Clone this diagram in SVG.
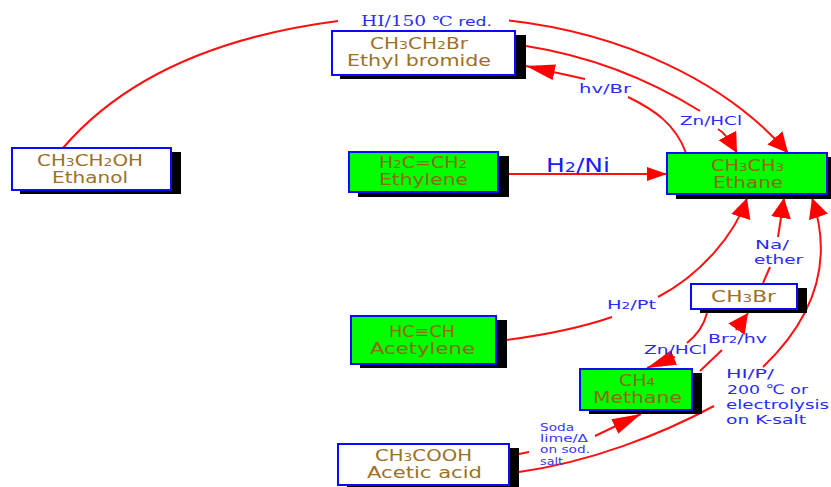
<svg xmlns="http://www.w3.org/2000/svg" width="831" height="487" viewBox="0 0 831 487">
<style>
text{font-family:"DejaVu Sans","Liberation Sans",sans-serif}
.bg{fill:#fff}
.sh{fill:#000}
.w{fill:#fff;stroke:#0a0aff;stroke-width:2}
.g{fill:#00ff00;stroke:#0a0aff;stroke-width:2}
.tw{fill:#9c7126;font-size:15px}
.tg{fill:#8c6a12;font-size:15px}
.l{fill:#2a2aff;font-size:13px}
.m{fill:#1a1aff;font-size:19px}
.x{fill:#3535ff;font-size:10.500px}
.c{fill:none;stroke:#ff1010;stroke-width:2}
.h{fill:#ff0000}
.sr{font-family:"DejaVu Serif","Liberation Serif",serif;font-size:14px}
.s{font-size:70%}
</style>
<defs>
<marker id="ah" markerUnits="userSpaceOnUse" markerWidth="24" markerHeight="24" refX="20" refY="10" orient="auto"><path class="h" d="M0 0L20 10L0 20Z"/></marker>
<marker id="an" markerUnits="userSpaceOnUse" markerWidth="24" markerHeight="16" refX="20" refY="7" orient="auto"><path class="h" d="M0 0L20 7L0 14Z"/></marker>
<marker id="al" markerUnits="userSpaceOnUse" markerWidth="32" markerHeight="18" refX="29" refY="8" orient="auto"><path class="h" d="M0 0L29 8L0 16Z"/></marker>
</defs>
<rect class="bg" width="831" height="487"/>
<g id="connectors">
<path class="c" marker-end="url(#ah)" d="M63 148C130 70 230 35 338 21M509 20.500C620 33 725 80 788 153"/>
<path class="c" marker-end="url(#ah)" d="M526 46C590 56 650 80 700 111M718 129C725 133 731 142 737 153"/>
<path class="c" marker-end="url(#al)" d="M686 153C676 125 655 110 628 97M585 79L526 66"/>
<path class="c" marker-end="url(#an)" d="M509 174H667"/>
<path class="c" marker-end="url(#ah)" d="M506 340C545 335 580 328 612 317M658 297C700 275 735 235 747 198"/>
<path class="c" marker-end="url(#ah)" d="M763 283L770 267M778 237L784 198"/>
<path class="c" marker-end="url(#ah)" d="M519 472C590 462 660 435 714 406M763 367C812 320 835 265 812 198"/>
<path class="c" marker-end="url(#al)" d="M707 313C704 325 697 335 687 343M675 357L647 368"/>
<path class="c" marker-end="url(#ah)" d="M700 371L722 350M736 330L748 313"/>
<path class="c" marker-end="url(#al)" d="M519 454L529 452M595 436L641 414"/>
<g id="labels">
<text x="361" y="26" class="l" textLength="131" lengthAdjust="spacingAndGlyphs"><tspan class="sr">HI/150 ℃</tspan> red.</text>
<text x="579" y="93" class="l" textLength="52" lengthAdjust="spacingAndGlyphs">hv/Br</text>
<text x="680" y="125" class="l" textLength="62" lengthAdjust="spacingAndGlyphs">Zn/HCl</text>
<text x="546" y="172" class="m" textLength="64" lengthAdjust="spacingAndGlyphs">H<tspan class="s">2</tspan>/Ni</text>
<text x="607" y="309" class="l" textLength="49" lengthAdjust="spacingAndGlyphs">H<tspan class="s">2</tspan>/Pt</text>
<text x="755" y="249" class="l" textLength="34" lengthAdjust="spacingAndGlyphs">Na/</text>
<text x="754" y="264" class="l" textLength="49" lengthAdjust="spacingAndGlyphs">ether</text>
<text x="708" y="343" class="l" textLength="59" lengthAdjust="spacingAndGlyphs">Br<tspan class="s">2</tspan>/hv</text>
<text x="644" y="354" class="l" textLength="63" lengthAdjust="spacingAndGlyphs">Zn/HCl</text>
<text x="726" y="378" class="l" textLength="48" lengthAdjust="spacingAndGlyphs">HI/P/</text>
<text x="727" y="394" class="l" textLength="81" lengthAdjust="spacingAndGlyphs">200 ℃ or</text>
<text x="726" y="409" class="l" textLength="103" lengthAdjust="spacingAndGlyphs">electrolysis</text>
<text x="726" y="424" class="l" textLength="80" lengthAdjust="spacingAndGlyphs">on K-salt</text>
<text x="540" y="431" class="x" textLength="34" lengthAdjust="spacingAndGlyphs">Soda</text>
<text x="540" y="442" class="x" textLength="48" lengthAdjust="spacingAndGlyphs">lime/Δ</text>
<text x="540" y="453" class="x" textLength="50" lengthAdjust="spacingAndGlyphs">on sod.</text>
<text x="540" y="465" class="x" textLength="23" lengthAdjust="spacingAndGlyphs">salt</text>
</g>
</g>
<g id="ethanol">
<rect class="sh" x="20" y="152" width="161" height="42"/><rect class="w" x="12" y="148" width="159" height="42"/>
<text x="37" y="166" class="tw" textLength="106" lengthAdjust="spacingAndGlyphs">CH<tspan class="s">3</tspan>CH<tspan class="s">2</tspan>OH</text>
<text x="52" y="183" class="tw" textLength="76" lengthAdjust="spacingAndGlyphs">Ethanol</text>
</g>
<g id="ethyl-bromide">
<rect class="sh" x="340" y="35" width="186" height="44"/><rect class="w" x="332" y="31" width="183" height="44"/>
<text x="370" y="49" class="tw" textLength="98" lengthAdjust="spacingAndGlyphs">CH<tspan class="s">3</tspan>CH<tspan class="s">2</tspan>Br</text>
<text x="347" y="66" class="tw" textLength="144" lengthAdjust="spacingAndGlyphs">Ethyl bromide</text>
</g>
<g id="ethylene">
<rect class="sh" x="358" y="156" width="151" height="41"/><rect class="g" x="349" y="152" width="149" height="40"/>
<text x="379" y="168" class="tg" textLength="88" lengthAdjust="spacingAndGlyphs">H<tspan class="s">2</tspan>C=CH<tspan class="s">2</tspan></text>
<text x="379" y="185" class="tg" textLength="89" lengthAdjust="spacingAndGlyphs">Ethylene</text>
</g>
<g id="ethane">
<rect class="sh" x="676" y="157" width="155" height="42"/><rect class="g" x="667" y="153" width="160" height="41"/>
<text x="711" y="171" class="tg" textLength="73" lengthAdjust="spacingAndGlyphs">CH<tspan class="s">3</tspan>CH<tspan class="s">3</tspan></text>
<text x="713" y="188" class="tg" textLength="70" lengthAdjust="spacingAndGlyphs">Ethane</text>
</g>
<g id="acetylene">
<rect class="sh" x="360" y="320" width="147" height="48"/><rect class="g" x="351" y="316" width="145" height="48"/>
<text x="389" y="337" class="tg" textLength="66" lengthAdjust="spacingAndGlyphs">HC≡CH</text>
<text x="370" y="354" class="tg" textLength="105" lengthAdjust="spacingAndGlyphs">Acetylene</text>
</g>
<g id="acetic-acid">
<rect class="sh" x="347" y="448" width="172" height="41"/><rect class="w" x="338" y="444" width="171" height="41"/>
<text x="375" y="460.500" class="tw" textLength="97" lengthAdjust="spacingAndGlyphs">CH<tspan class="s">3</tspan>COOH</text>
<text x="367" y="477.500" class="tw" textLength="115" lengthAdjust="spacingAndGlyphs">Acetic acid</text>
</g>
<g id="methane">
<rect class="sh" x="589" y="373" width="113" height="41"/><rect class="g" x="580" y="369" width="112" height="41"/>
<text x="619" y="385.500" class="tg" textLength="36" lengthAdjust="spacingAndGlyphs">CH<tspan class="s">4</tspan></text>
<text x="593" y="402.500" class="tg" textLength="89" lengthAdjust="spacingAndGlyphs">Methane</text>
</g>
<g id="methyl-bromide">
<rect class="sh" x="700" y="288" width="107" height="25"/><rect class="w" x="691" y="284" width="106" height="25"/>
<text x="711" y="302" class="tw" textLength="65" lengthAdjust="spacingAndGlyphs">CH<tspan class="s">3</tspan>Br</text>
</g>
</svg>
